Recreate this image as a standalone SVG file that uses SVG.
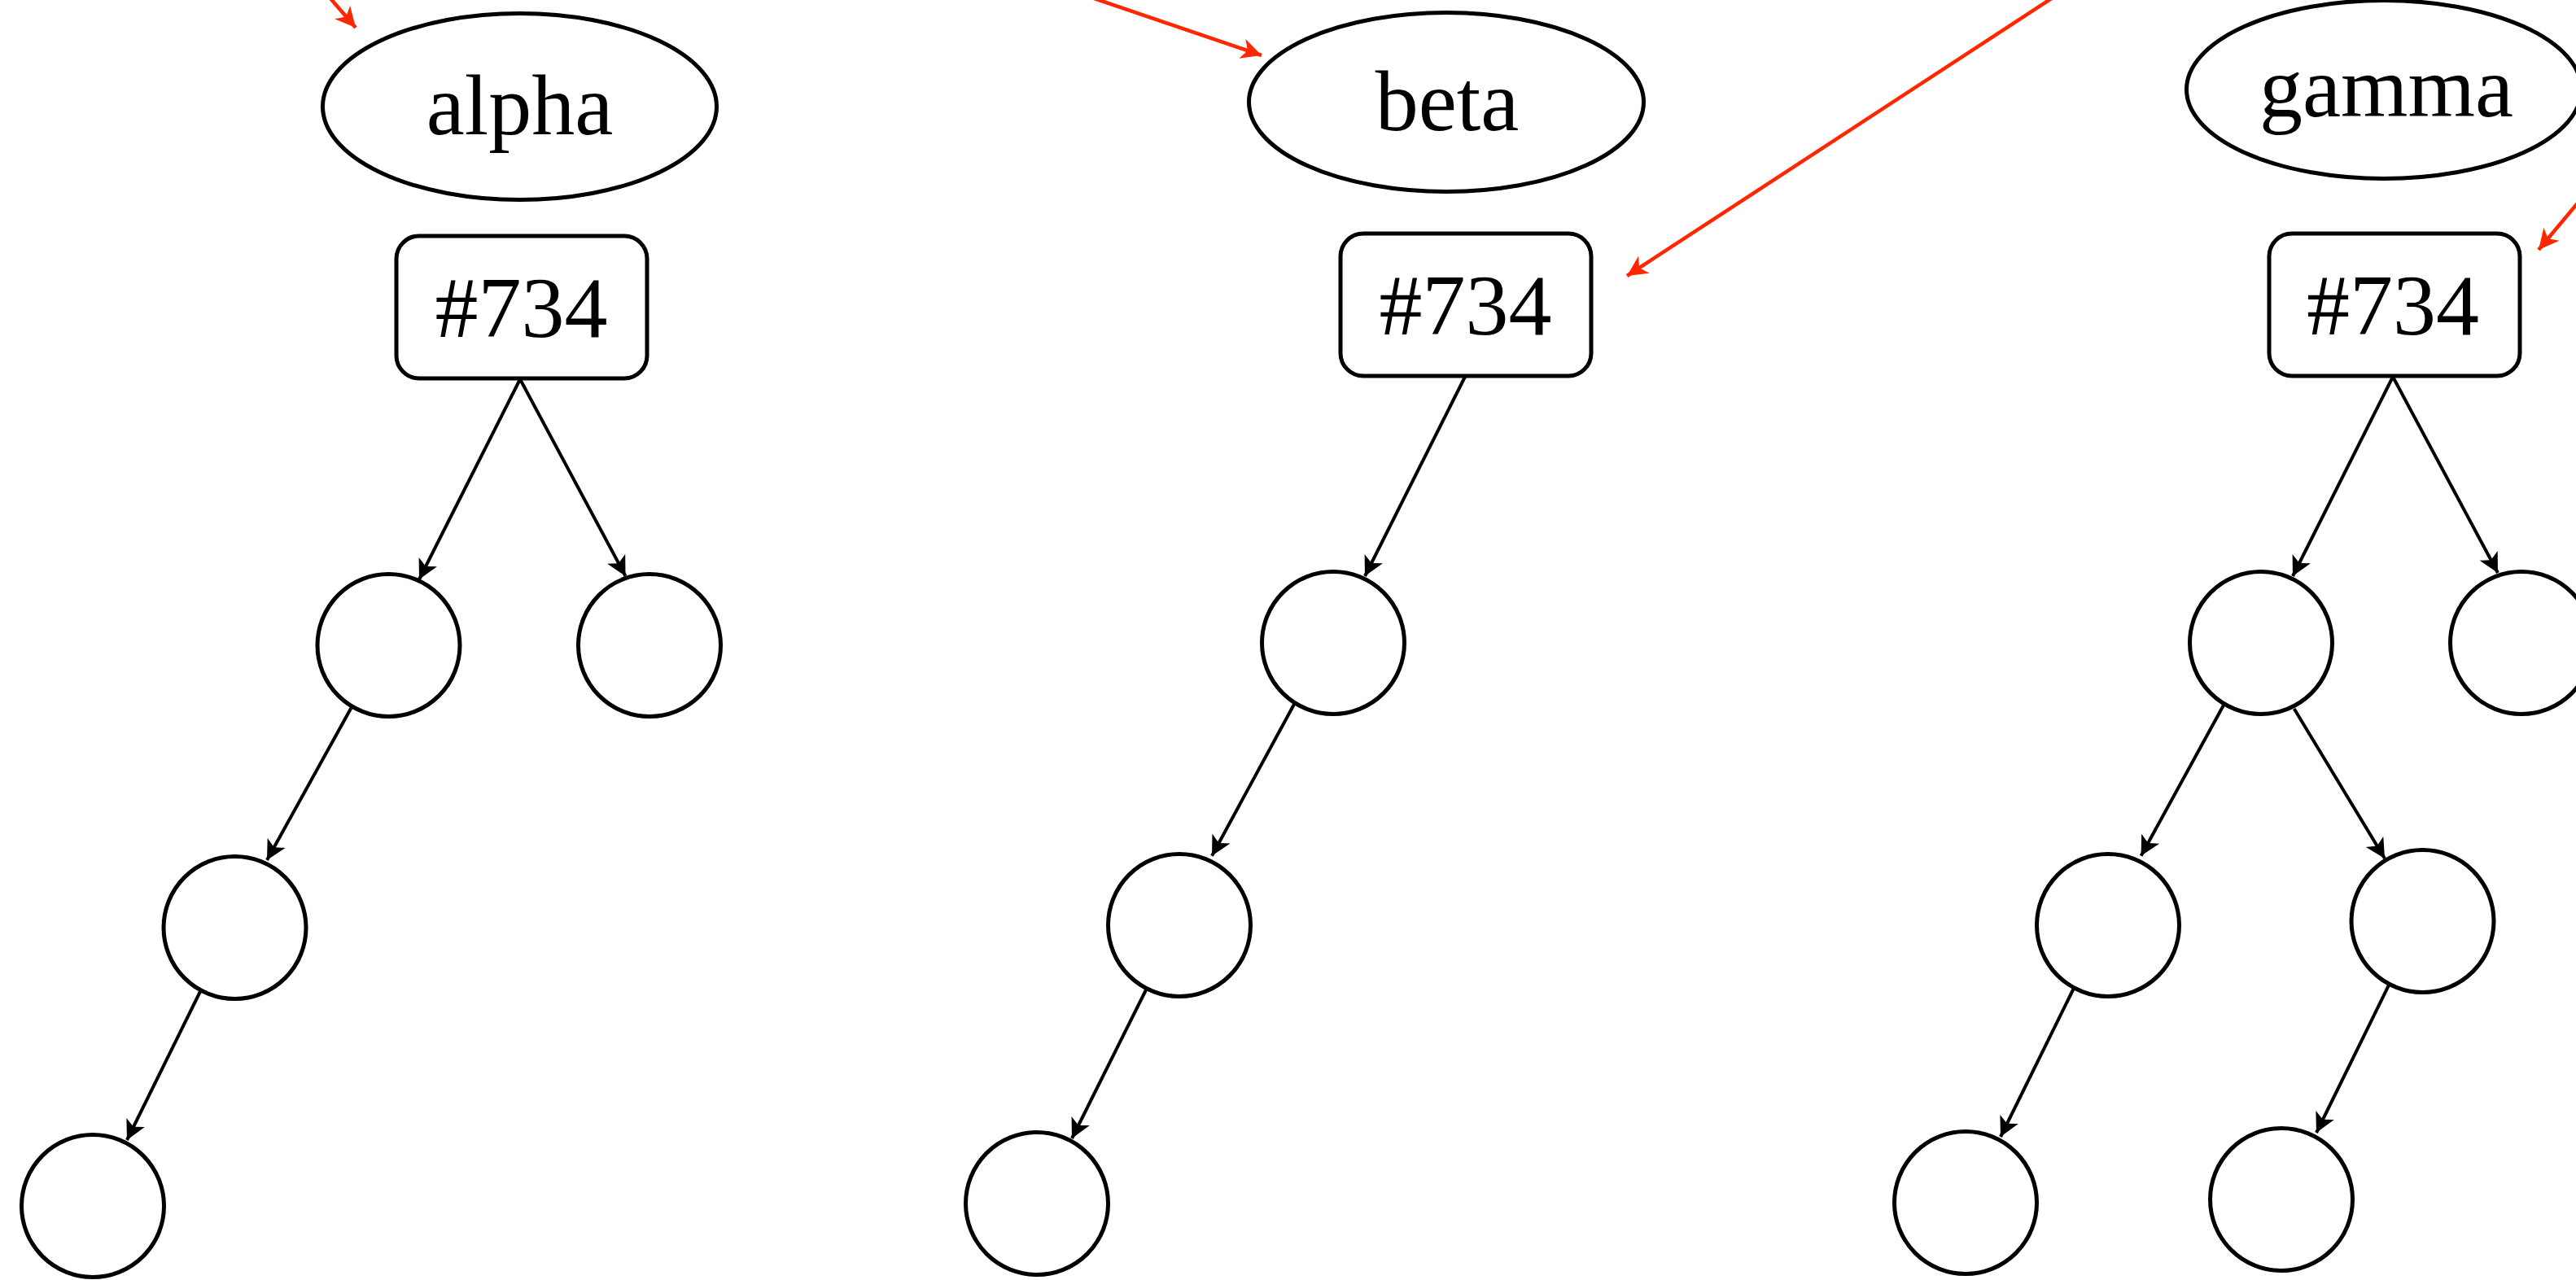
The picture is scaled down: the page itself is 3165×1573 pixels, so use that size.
<svg xmlns="http://www.w3.org/2000/svg" width="3165" height="1573" viewBox="0 0 3165 1573">
<style>
  .ell { fill: #ffffff; stroke: #000000; stroke-width: 5; }
  .box { fill: #ffffff; stroke: #000000; stroke-width: 5; }
  .leaf { fill: #ffffff; stroke: #000000; stroke-width: 5; }
  .lbl { font-family: "Liberation Serif", "Times New Roman", serif; font-size: 106px; fill: #000000; text-anchor: middle; }
  .edge { fill: none; stroke: #000000; stroke-width: 4; marker-end: url(#ah); }
  .ref { fill: none; stroke: #ff2600; stroke-width: 4.5; marker-end: url(#ahr); }
</style>
<defs>
  <marker id="ah" markerUnits="userSpaceOnUse" viewBox="-26 -15 28 30" refX="0" refY="0" markerWidth="28" markerHeight="30" orient="auto">
    <path d="M0,0 L-24,-12.5 L-18,0 L-24,12.5 Z" fill="#000000"/>
  </marker>
  <marker id="ahr" markerUnits="userSpaceOnUse" viewBox="-26 -15 28 30" refX="0" refY="0" markerWidth="28" markerHeight="30" orient="auto">
    <path d="M0,0 L-25,-12.5 L-18,0 L-25,12.5 Z" fill="#ff2600"/>
  </marker>
</defs>
<rect x="0" y="0" width="3165" height="1573" fill="#ffffff"/>

<g id="connectors">
  <line class="edge" x1="639" y1="466" x2="515" y2="712"/>
  <line class="edge" x1="639" y1="466" x2="768.5" y2="708"/>
  <line class="edge" x1="432" y1="869" x2="328" y2="1057"/>
  <line class="edge" x1="246" y1="1218.5" x2="156" y2="1401"/>

  <line class="edge" x1="1800" y1="463" x2="1677" y2="708"/>
  <line class="edge" x1="1590" y1="865.5" x2="1489" y2="1051.7"/>
  <line class="edge" x1="1408" y1="1216.5" x2="1317" y2="1399"/>

  <line class="edge" x1="2940" y1="463" x2="2817" y2="708"/>
  <line class="edge" x1="2940" y1="463" x2="3069" y2="704"/>
  <line class="edge" x1="2732.6" y1="865.5" x2="2630.6" y2="1051.7"/>
  <line class="edge" x1="2818.7" y1="871" x2="2930" y2="1055"/>
  <line class="edge" x1="2547.7" y1="1215" x2="2458" y2="1397"/>
  <line class="edge" x1="2935" y1="1210.7" x2="2846" y2="1392"/>

  <line class="ref" x1="399" y1="-10" x2="437" y2="34"/>
  <line class="ref" x1="1300" y1="-17" x2="1550" y2="68"/>
  <line class="ref" x1="2533" y1="-10" x2="1999" y2="339"/>
  <line class="ref" x1="3175" y1="240" x2="3119" y2="307"/>
</g>

<g id="alpha">
  <ellipse class="ell" cx="638.5" cy="131" rx="242" ry="114.5"/>
  <text class="lbl" x="638.5" y="165">alpha</text>
</g>
<g id="alpha-734">
  <rect class="box" x="487" y="290" width="308" height="175" rx="28" ry="28"/>
  <text class="lbl" x="640.5" y="414">#734</text>
</g>
<g id="alpha-n1"><circle class="leaf" cx="477.5" cy="793" r="87.5"/></g>
<g id="alpha-n2"><circle class="leaf" cx="798" cy="793" r="87.5"/></g>
<g id="alpha-n3"><circle class="leaf" cx="288.5" cy="1140" r="87.5"/></g>
<g id="alpha-n4"><circle class="leaf" cx="114" cy="1482" r="87.5"/></g>

<g id="beta">
  <ellipse class="ell" cx="1777" cy="125.5" rx="242.5" ry="110"/>
  <text class="lbl" x="1778" y="160">beta</text>
</g>
<g id="beta-734">
  <rect class="box" x="1647" y="287" width="308" height="175" rx="28" ry="28"/>
  <text class="lbl" x="1800.5" y="411">#734</text>
</g>
<g id="beta-n1"><circle class="leaf" cx="1638" cy="790" r="87.5"/></g>
<g id="beta-n2"><circle class="leaf" cx="1449" cy="1137" r="87.5"/></g>
<g id="beta-n3"><circle class="leaf" cx="1274" cy="1479" r="87.5"/></g>

<g id="gamma">
  <ellipse class="ell" cx="2929" cy="110" rx="242.5" ry="109.5"/>
  <text class="lbl" x="2932" y="143">gamma</text>
</g>
<g id="gamma-734">
  <rect class="box" x="2788" y="287" width="308" height="175" rx="28" ry="28"/>
  <text class="lbl" x="2940" y="411">#734</text>
</g>
<g id="gamma-n1"><circle class="leaf" cx="2778" cy="790" r="87.5"/></g>
<g id="gamma-n2"><circle class="leaf" cx="3098" cy="790" r="87.5"/></g>
<g id="gamma-n3"><circle class="leaf" cx="2590" cy="1137" r="87.5"/></g>
<g id="gamma-n4"><circle class="leaf" cx="2976.5" cy="1132" r="87.5"/></g>
<g id="gamma-n5"><circle class="leaf" cx="2415" cy="1478" r="87.5"/></g>
<g id="gamma-n6"><circle class="leaf" cx="2803" cy="1474" r="87.5"/></g>
</svg>
